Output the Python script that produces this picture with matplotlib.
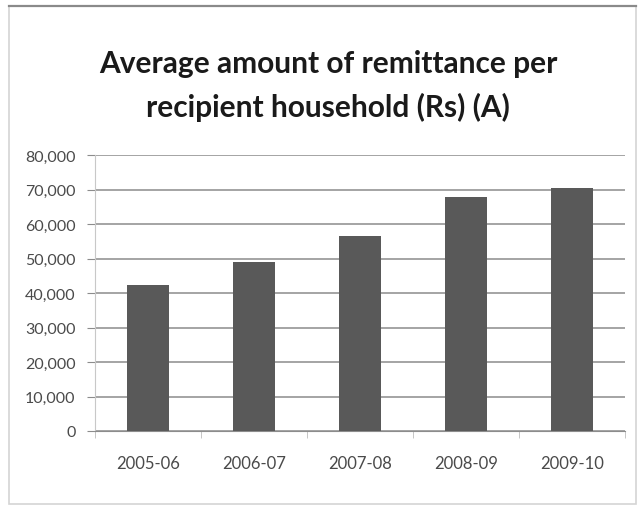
import matplotlib.pyplot as plt
from matplotlib.patches import Rectangle
from matplotlib.ticker import FuncFormatter, MultipleLocator

years = ['2005-06', '2006-07', '2007-08', '2008-09', '2009-10']
amounts = [42400, 48900, 56600, 67900, 70300]

plt.rcParams['font.family'] = ['Lato', 'DejaVu Sans']

fig = plt.figure(figsize=(6.43, 5.06), dpi=100)
fig.patch.set_facecolor('white')

# chart frame
frame = Rectangle((9 / 643, 1 / 506), 627 / 643, 498 / 506, transform=fig.transFigure,
                  fill=False, edgecolor='#d4d4d4', linewidth=1.2)
fig.patches.append(frame)
fig.add_artist(plt.Line2D([9 / 643, 636 / 643], [499 / 506, 499 / 506],
                          transform=fig.transFigure, color='#8a8a8a', linewidth=1.6))

ax = fig.add_axes([95 / 643, 1 - 432 / 506, 530 / 643, 276 / 506])

x = range(len(years))
ax.bar(x, amounts, width=0.4, color='#595959', zorder=3)

ax.set_ylim(0, 80000)
ax.set_xlim(-0.5, len(years) - 0.5)
ax.yaxis.set_major_locator(MultipleLocator(10000))
ax.yaxis.set_major_formatter(FuncFormatter(lambda v, p: f'{int(v):,}'))
ax.grid(axis='y', color='#8c8c8c', linewidth=1.1, zorder=0)

ax.set_xticks(x)
ax.set_xticklabels(years)
# tick marks sit on the category boundaries
ax.set_xticks([i - 0.5 for i in range(len(years) + 1)], minor=True)
ax.tick_params(axis='x', which='major', length=0, pad=17, labelsize=12, labelcolor='#4a4a4a')
ax.tick_params(axis='x', which='minor', length=5, color='#bdbdbd', direction='out')
ax.tick_params(axis='y', length=6, color='#8c8c8c', pad=8, labelsize=11.5, labelcolor='#4a4a4a')

for side in ['top', 'right']:
    ax.spines[side].set_visible(False)
ax.spines['left'].set_color('#c8c8c8')
ax.spines['bottom'].set_color('#8c8c8c')

fig.text(0.51, 1 - 86 / 506, 'Average amount of remittance per\nrecipient household (Rs) (A)',
         ha='center', va='center', fontsize=21.5, fontweight='bold', color='#1a1a1a',
         linespacing=1.6)

fig.savefig('out.png', dpi=100)
